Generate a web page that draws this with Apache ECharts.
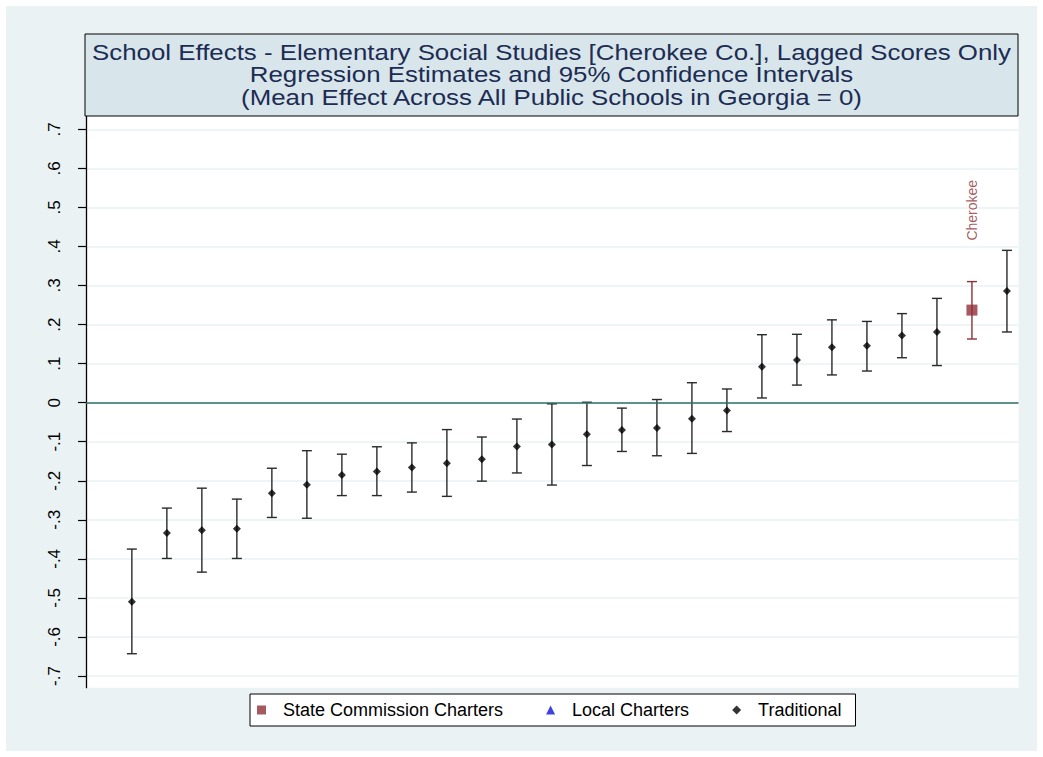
<!DOCTYPE html>
<html>
<head>
<meta charset="utf-8">
<script src="https://cdn.jsdelivr.net/npm/echarts@6/dist/echarts.min.js"></script>
<style>
html,body{margin:0;padding:0;background:#ffffff;}
#wrap{position:absolute;left:0;top:0;width:1043px;height:757px;background:#ffffff;}
#chart{position:absolute;left:6px;top:6px;width:1031px;height:745px;background:#EAF2F3;}
</style>
</head>
<body>
<div id="wrap"><div id="chart"></div></div>
<script>
// ---- data ----
const titleLines = [
  "School Effects - Elementary Social Studies [Cherokee Co.], Lagged Scores Only",
  "Regression Estimates and 95% Confidence Intervals",
  "(Mean Effect Across All Public Schools in Georgia = 0)"
];
const yTickLabels = {"0.7":".7","0.6":".6","0.5":".5","0.4":".4","0.3":".3","0.2":".2","0.1":".1","0":"0",
  "-0.1":"-.1","-0.2":"-.2","-0.3":"-.3","-0.4":"-.4","-0.5":"-.5","-0.6":"-.6","-0.7":"-.7"};
// Traditional schools: rank, estimate, lower CI, upper CI
const tradRank = [1,2,3,4,5,6,7,8,9,10,11,12,13,14,15,16,17,18,19,20,21,22,23,24,26];
const tradEst  = [-0.510,-0.334,-0.327,-0.323,-0.232,-0.210,-0.185,-0.176,-0.166,-0.155,-0.145,-0.112,-0.107,-0.081,-0.070,-0.065,-0.041,-0.020,0.092,0.109,0.142,0.146,0.172,0.181,0.286];
const tradLo   = [-0.643,-0.399,-0.434,-0.399,-0.294,-0.296,-0.238,-0.238,-0.229,-0.240,-0.201,-0.180,-0.211,-0.161,-0.125,-0.136,-0.130,-0.074,0.012,0.045,0.071,0.081,0.115,0.095,0.181];
const tradHi   = [-0.375,-0.270,-0.219,-0.247,-0.168,-0.123,-0.132,-0.113,-0.103,-0.069,-0.088,-0.042,-0.003,0.001,-0.014,0.008,0.051,0.035,0.174,0.175,0.212,0.208,0.228,0.267,0.390];
// State commission charter (Cherokee)
const stateRank = [25];
const stateEst  = [0.237];
const stateLo   = [0.163];
const stateHi   = [0.310];
const stateNames = ["Cherokee"];
const stateLabelAt = [0.415];
// Local charters: none in this county
const localRank = [];
const localEst = [];

const seriesNames = ["State Commission Charters","Local Charters","Traditional"];

// ---- build ----
const tradPts = tradRank.map((r,i)=>[r,tradEst[i]]);
const tradBars = tradRank.map((r,i)=>[r,tradLo[i],tradHi[i]]);
const statePts = stateRank.map((r,i)=>[r,stateEst[i]]);
const stateBars = stateRank.map((r,i)=>[r,stateLo[i],stateHi[i]]);
const stateLbl = stateRank.map((r,i)=>({value:[r,stateLabelAt[i]], name:stateNames[i]}));
const localPts = localRank.map((r,i)=>[r,localEst[i]]);

const RED = '#8E3038';
const FONT = 'Liberation Sans, Arial, sans-serif';
const TITLE_SX = 1.175;

function errBar(color){
  return function(params, api){
    const x = api.value(0);
    const lo = api.coord([x, api.value(1)]);
    const hi = api.coord([x, api.value(2)]);
    const cap = 5;
    const st = {stroke: color, lineWidth: 1.4};
    return {type:'group', children:[
      {type:'line', shape:{x1:lo[0],y1:lo[1],x2:hi[0],y2:hi[1]}, style:st},
      {type:'line', shape:{x1:lo[0]-cap,y1:lo[1],x2:lo[0]+cap,y2:lo[1]}, style:st},
      {type:'line', shape:{x1:hi[0]-cap,y1:hi[1],x2:hi[0]+cap,y2:hi[1]}, style:st}
    ]};
  };
}

const chart = echarts.init(document.getElementById('chart'), null, {renderer:'svg'});
const XMIN = -0.31, XMAX = 26.33;
const option = {
  backgroundColor: '#EAF2F3',
  animation: false,
  textStyle: {fontFamily: FONT},
  graphic: [
    {type:'rect', shape:{x:79, y:28, width:933, height:82}, style:{fill:'#D8E5EB', stroke:'#000', lineWidth:1}, z:10},
    {type:'text', x:545.5, y:46, scaleX:TITLE_SX, style:{text:titleLines[0], font:'22px '+FONT, fill:'#1C2C52', textAlign:'center', textVerticalAlign:'middle'}, z:11},
    {type:'text', x:545.5, y:68.5, scaleX:TITLE_SX, style:{text:titleLines[1], font:'22px '+FONT, fill:'#1C2C52', textAlign:'center', textVerticalAlign:'middle'}, z:11},
    {type:'text', x:545.5, y:91, scaleX:TITLE_SX, style:{text:titleLines[2], font:'22px '+FONT, fill:'#1C2C52', textAlign:'center', textVerticalAlign:'middle'}, z:11}
  ],
  legend: {
    left: 244, top: 688,
    backgroundColor:'#fff', borderColor:'#000', borderWidth:1, borderRadius:0,
    padding:[7,14,7,7],
    itemGap: 43, itemWidth: 9, itemHeight: 9,
    textStyle:{fontSize:18, color:'#000', fontFamily:FONT, padding:[0,0,0,12]},
    data: [
      {name:seriesNames[0], icon:'rect', itemStyle:{color:RED}},
      {name:seriesNames[1], icon:'triangle', itemStyle:{color:'#1010E0'}},
      {name:seriesNames[2], icon:'diamond', itemStyle:{color:'#000'}}
    ]
  },
  grid: [
    {left:80, right:18.5, top:110, bottom:63.3, show:true, backgroundColor:'#fff', borderWidth:0},
    {left:80, right:18.5, top:123.3, bottom:75}
  ],
  xAxis: [
    {gridIndex:0, type:'value', min:XMIN, max:XMAX, show:false},
    {gridIndex:1, type:'value', min:XMIN, max:XMAX, show:false}
  ],
  yAxis: [
    {gridIndex:0, type:'value', min:0, max:1, axisLine:{show:true, onZero:false, lineStyle:{color:'#000', width:1.3}},
     axisTick:{show:false}, axisLabel:{show:false}, splitLine:{show:false}},
    {gridIndex:1, type:'value', min:-0.7, max:0.7, interval:0.1,
     axisLine:{show:false, onZero:false},
     axisTick:{show:true, inside:false, length:8, lineStyle:{color:'#000', width:1.2}},
     axisLabel:{show:true, rotate:90, margin:23, fontSize:17, color:'#000', fontFamily:FONT,
       formatter: v => { const k = String(Math.round(v*10)/10); return yTickLabels[k] !== undefined ? yTickLabels[k] : k; }},
     splitLine:{show:true, lineStyle:{color:'#EAF2F3', width:1.6}}
    }
  ],
  series: [
    {name:'zero', type:'line', xAxisIndex:1, yAxisIndex:1, data:[], silent:true,
     markLine:{silent:true, symbol:'none', label:{show:false}, lineStyle:{color:'#2E6E68', width:1.6, type:'solid'},
       data:[{yAxis:0}]}},
    {name:'tradBars', type:'custom', xAxisIndex:1, yAxisIndex:1, renderItem:errBar('#2a2a2a'), data:tradBars, silent:true, z:3},
    {name:'stateBars', type:'custom', xAxisIndex:1, yAxisIndex:1, renderItem:errBar(RED), data:stateBars, silent:true, z:3},
    {name:seriesNames[2], type:'scatter', xAxisIndex:1, yAxisIndex:1, symbol:'diamond', symbolSize:8, itemStyle:{color:'#000'}, data:tradPts, z:5},
    {name:seriesNames[0], type:'scatter', xAxisIndex:1, yAxisIndex:1, symbol:'rect', symbolSize:11, itemStyle:{color:RED}, data:statePts, z:5},
    {name:seriesNames[1], type:'scatter', xAxisIndex:1, yAxisIndex:1, symbol:'triangle', symbolSize:7, itemStyle:{color:'#1010E0'}, data:localPts, z:5},
    {name:'labels', type:'scatter', xAxisIndex:1, yAxisIndex:1, symbolSize:0, data:stateLbl, silent:true,
     label:{show:true, formatter: p => p.name, rotate:90, position:[0,0], align:'left', verticalAlign:'middle',
       color:RED, fontSize:14, fontFamily:FONT}}
  ]
};
chart.setOption(option);
</script>
</body>
</html>
